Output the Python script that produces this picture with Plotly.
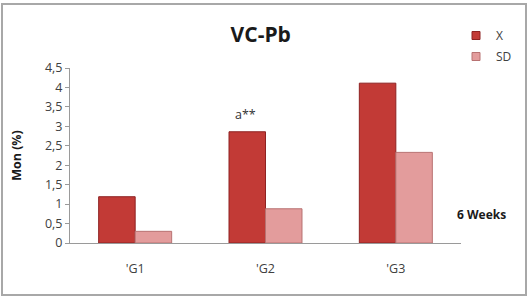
import plotly.graph_objects as go

categories = ["'G1", "'G2", "'G3"]
x_values = [1.19, 2.86, 4.11]
sd_values = [0.3, 0.88, 2.33]
y_tickvals = [0, 0.5, 1, 1.5, 2, 2.5, 3, 3.5, 4, 4.5]
y_ticktext = ["0", "0,5", "1", "1,5", "2", "2,5", "3", "3,5", "4", "4,5"]

W, H = 531, 299
L, R, T, B = 70, 70, 68, 56
pw, ph = W - L - R, H - T - B

def px(x):
    return (x - L) / pw

def py(y):
    return (H - B - y) / ph

X_COL, X_EDGE = "#C23A36", "#8E2222"
SD_COL, SD_EDGE = "#E39C9C", "#B87272"

fig = go.Figure()
fig.add_trace(go.Bar(
    x=categories, y=x_values, name="X", showlegend=False,
    marker=dict(color=X_COL, line=dict(color=X_EDGE, width=1)),
))
fig.add_trace(go.Bar(
    x=categories, y=sd_values, name="SD", showlegend=False,
    marker=dict(color=SD_COL, line=dict(color=SD_EDGE, width=1)),
))
# legend entries with small square keys
fig.add_trace(go.Scatter(
    x=[None], y=[None], mode="markers", name="X", legendgroup="a",
    marker=dict(symbol="square", size=8, color=X_COL, line=dict(color=X_EDGE, width=1)),
))
fig.add_trace(go.Scatter(
    x=[None], y=[None], mode="markers", name="SD", legendgroup="b",
    marker=dict(symbol="square", size=8, color=SD_COL, line=dict(color=SD_EDGE, width=1)),
))

font = "'Open Sans', sans-serif"
fig.update_layout(
    width=W, height=H,
    margin=dict(l=L, r=R, t=T, b=B),
    paper_bgcolor="white", plot_bgcolor="white",
    barmode="group", bargap=0.44, bargroupgap=0,
    separators=",.",
    font=dict(family=font, size=12, color="#404040"),
    title=dict(text="<b>VC-Pb</b>", x=px(262), xanchor="center",
               y=1 - 35 / H, yanchor="middle",
               font=dict(family=font, size=21, color="#1a1a1a")),
    legend=dict(x=px(456), y=py(21), xanchor="left", yanchor="top",
                font=dict(family=font, size=12, color="#404040"),
                traceorder="grouped", tracegroupgap=2,
                itemwidth=30, bgcolor="rgba(0,0,0,0)"),
    showlegend=True,
)
fig.update_xaxes(
    showline=True, linecolor="#9a9a9a", linewidth=1,
    ticks="outside", ticklen=14, tickcolor="rgba(0,0,0,0)",
    tickfont=dict(family=font, size=12.5, color="#404040"),
    showgrid=False, zeroline=False,
)
fig.update_yaxes(
    range=[0, 4.5], tickvals=y_tickvals, ticktext=y_ticktext,
    showline=True, linecolor="#9a9a9a", linewidth=1,
    ticks="outside", ticklen=4, tickcolor="#9a9a9a",
    tickfont=dict(family=font, size=12.5, color="#404040"),
    showgrid=False, zeroline=False,
    title=dict(text="<b>Mon (%)</b>", standoff=20,
               font=dict(family=font, size=12.5, color="#1a1a1a")),
)
fig.add_annotation(x=categories[1], y=x_values[1], xref="x", yref="y",
                   text="a**", showarrow=False, xshift=-20, yshift=17,
                   font=dict(family=font, size=12.5, color="#333333"))
fig.add_annotation(x=px(482), y=py(214), xref="paper", yref="paper",
                   text="<b>6 Weeks</b>", showarrow=False,
                   xanchor="center", yanchor="middle",
                   font=dict(family=font, size=12, color="#1a1a1a"))
fig.add_shape(type="rect", xref="paper", yref="paper",
              x0=px(2), x1=px(526), y0=py(295), y1=py(4),
              line=dict(color="#a8a8a8", width=2), layer="below")

fig.write_html("out.html")
